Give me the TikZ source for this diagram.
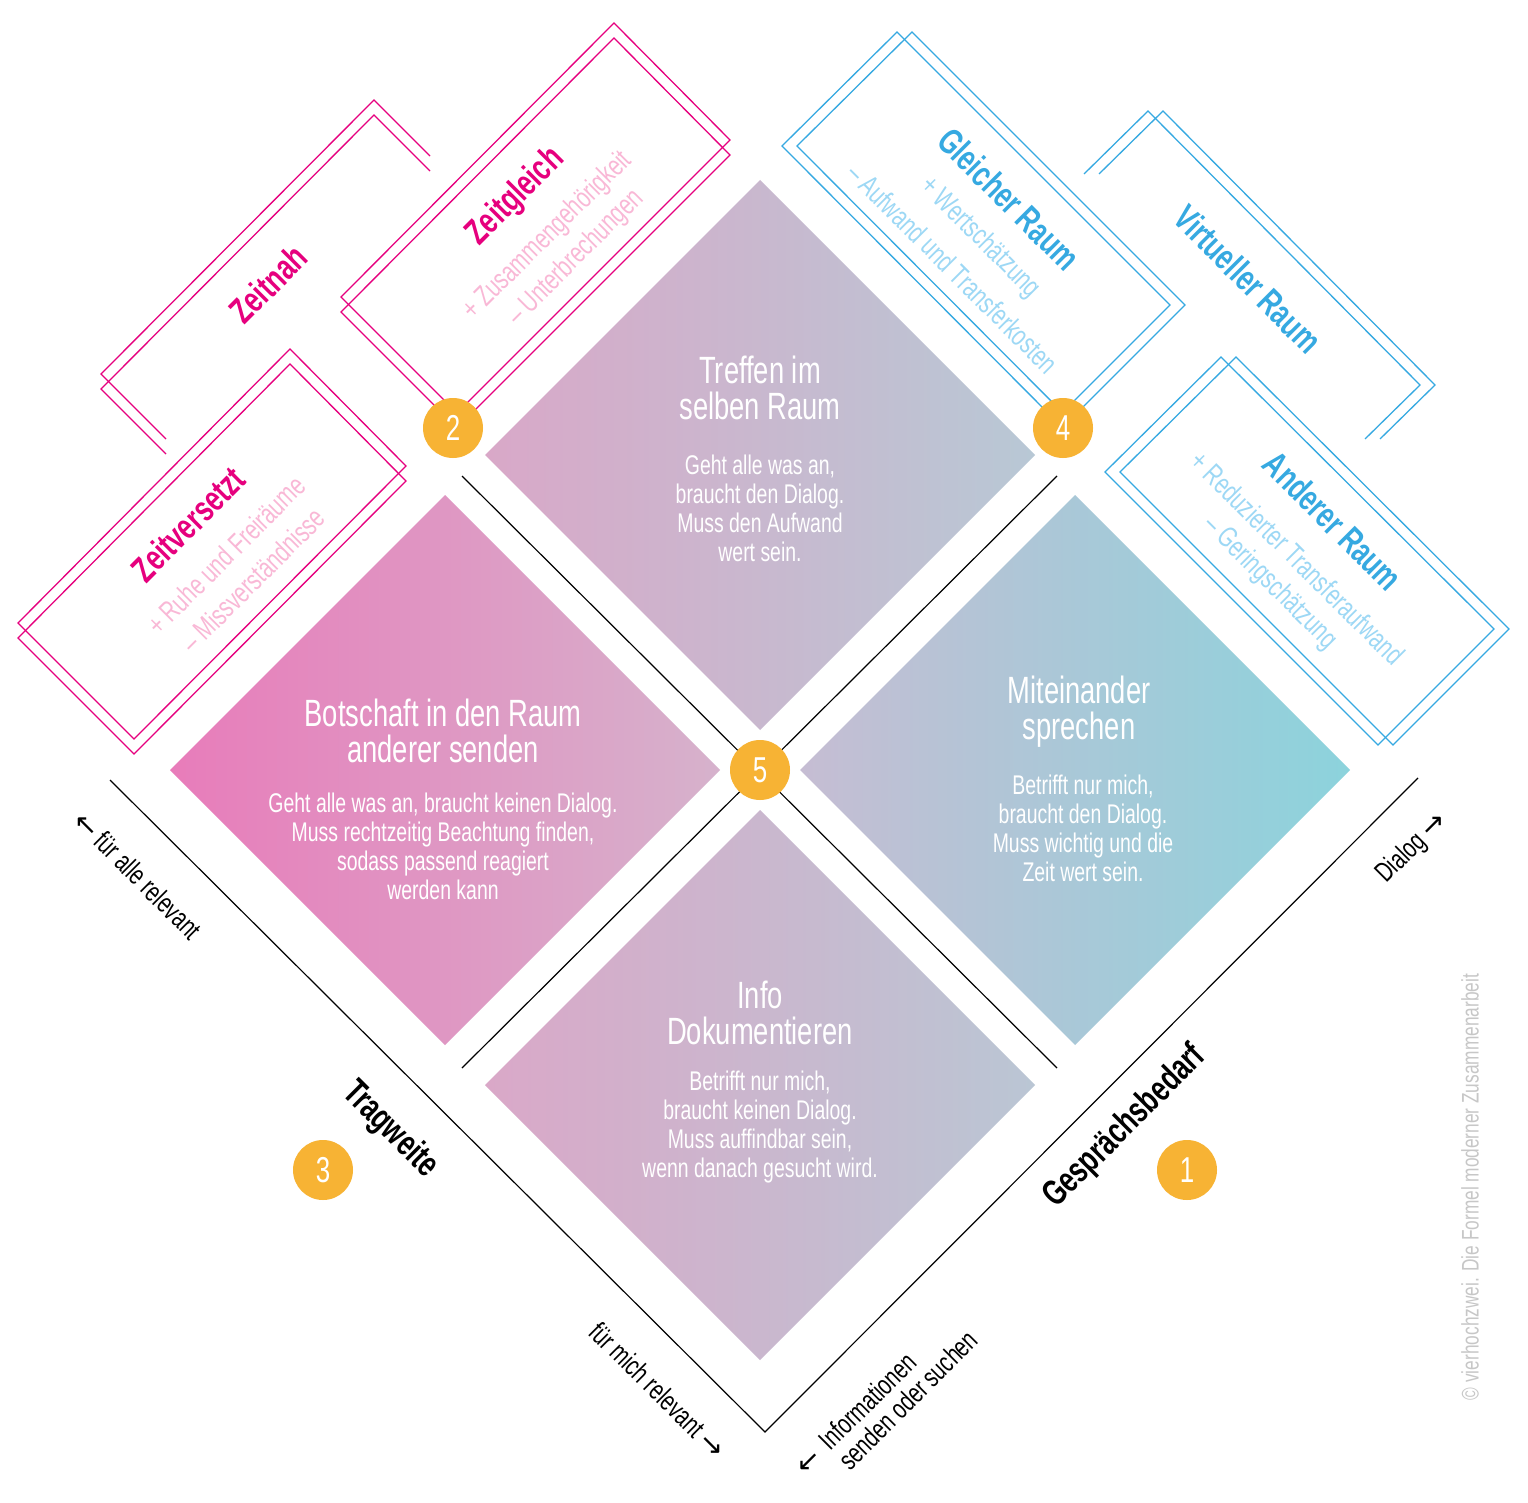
\documentclass[tikz,border=0pt]{standalone}
\usepackage{fontspec}
\setmainfont{Liberation Sans}[FakeStretch=0.72]
\newfontfamily\symf{DejaVu Sans}
\begin{document}
\begin{tikzpicture}[x=1pt,y=-1pt,
  frp/.style={draw=mpink,line width=1.3pt},
  frb/.style={draw=mblue,line width=1.3pt},
  circ/.style={circle,fill=morange,minimum size=60pt,inner sep=0pt,text=white,font=\fontsize{36}{36}\selectfont},
  ttl/.style={text=white,align=center,font=\fontsize{38}{36}\selectfont},
  bdy/.style={text=white,align=center,font=\fontsize{27}{29}\selectfont},
  ax/.style={font=\fontsize{28}{28}\selectfont,align=center},
  axb/.style={font=\bfseries\fontsize{36}{36}\selectfont},
  ftp/.style={font=\bfseries\fontsize{36}{36}\selectfont},
  fsb/.style={font=\fontsize{29}{29}\selectfont}]
\definecolor{mpink}{HTML}{E6007E}
\definecolor{lpink}{HTML}{F9B8D6}
\definecolor{mblue}{HTML}{36A9E1}
\definecolor{lblue}{HTML}{9DD8F5}
\definecolor{morange}{HTML}{F7B334}
\useasboundingbox (0,0) rectangle (1528,1503);
\fill[white] (0,0) rectangle (1528,1503);
% diamonds
\shade[left color={rgb,255:red,232;green,124;blue,186},right color={rgb,255:red,214;green,178;blue,204}] (445,495)--(720,770)--(445,1045)--(170,770)--cycle;
\shade[left color={rgb,255:red,217;green,168;blue,200},right color={rgb,255:red,184;green,200;blue,213}] (760,180)--(1035,455)--(760,730)--(485,455)--cycle;
\shade[left color={rgb,255:red,198;green,189;blue,211},right color={rgb,255:red,140;green,211;blue,220}] (1075,495)--(1350,770)--(1075,1045)--(800,770)--cycle;
\shade[left color={rgb,255:red,218;green,168;blue,200},right color={rgb,255:red,186;green,198;blue,212}] (760,810)--(1035,1085)--(760,1360)--(485,1085)--cycle;
% diamond texts
\node[ttl] (t1) at (760,388) {Treffen im\\selben Raum};
\node[bdy] (b1) at (760,508) {Geht alle was an,\\braucht den Dialog.\\Muss den Aufwand\\wert sein.};
\node[ttl] (t2) at (443,731) {Botschaft in den Raum\\anderer senden};
\node[bdy] (b2) at (443,846) {Geht alle was an, braucht keinen Dialog.\\Muss rechtzeitig Beachtung finden,\\sodass passend reagiert\\werden kann};
\node[ttl] (t3) at (1079,712) {Miteinander\\sprechen};
\node[bdy] (b3) at (1083,828) {Betrifft nur mich,\\braucht den Dialog.\\Muss wichtig und die\\Zeit wert sein.};
\node[ttl] (t4) at (760,1013) {Info\\Dokumentieren};
\node[bdy] (b4) at (760,1127) {Betrifft nur mich,\\braucht keinen Dialog.\\Muss auffindbar sein,\\wenn danach gesucht wird.};
% lines
\coordinate (va) at (110,780); \coordinate (vb) at (765,1432); \coordinate (vc) at (1418,778);
\draw[line width=1.2pt] (va)--(vb)--(vc);
\coordinate (la) at (462,476); \coordinate (lb) at (1057,1068);
\coordinate (lc) at (1057,476); \coordinate (ld) at (462,1068);
\draw[line width=1.2pt] (la)--(lb);
\draw[line width=1.2pt] (lc)--(ld);
% pink frames
\foreach \d in {0,15}{
 \draw[frp] (430,156+\d)--(374,100+\d)--(101,374+\d)--(166,439+\d);
 \draw[frp] (614,23+\d)--(730,140+\d)--(457,413+\d)--(341,297+\d)--cycle;
 \draw[frp] (290,349+\d)--(406,466+\d)--(134,739+\d)--(18,623+\d)--cycle;
}
% blue frames
\foreach \d in {0,15}{
 \draw[frb] (1084+\d,174)--(1148+\d,111)--(1420+\d,385)--(1365+\d,439);
 \draw[frb] (897+\d,32)--(1170+\d,305)--(1055+\d,420)--(782+\d,146)--cycle;
 \draw[frb] (1221+\d,357)--(1494+\d,629)--(1378+\d,745)--(1105+\d,472)--cycle;
}
% frame texts
\node[rotate=45,text=mpink,ftp] (zn) at (268,284) {Zeitnah};
\node[rotate=45,text=mpink,ftp] (zg) at (516,197) {Zeitgleich};
\node[rotate=45,text=lpink,fsb] (zg1) at (548,236) {+ Zusammengehörigkeit};
\node[rotate=45,text=lpink,fsb] (zg2) at (576,258) {– Unterbrechungen};
\node[rotate=45,text=mpink,ftp] (zv) at (188,524) {Zeitversetzt};
\node[rotate=45,text=lpink,fsb] (zv1) at (226,555) {+ Ruhe und Freiräume};
\node[rotate=45,text=lpink,fsb] (zv2) at (253,580) {– Missverständnisse};
\node[rotate=-45,text=mblue,ftp] (gr) at (1009,199) {Gleicher Raum};
\node[rotate=-45,text=lblue,fsb] (gr1) at (980,238) {+ Wertschätzung};
\node[rotate=-45,text=lblue,fsb] (gr2) at (953,268) {– Aufwand und Transferkosten};
\node[rotate=-45,text=mblue,ftp] (vr) at (1248,279) {Virtueller Raum};
\node[rotate=-45,text=mblue,ftp] (ar) at (1333,521) {Anderer Raum};
\node[rotate=-45,text=lblue,fsb] (ar1) at (1298,558) {+ Reduzierter Transferaufwand};
\node[rotate=-45,text=lblue,fsb] (ar2) at (1270,583) {– Geringschätzung};
% circles
\node[circ] (c2) at (453,428) {2};
\node[circ] (c4) at (1063,428) {4};
\node[circ] (c5) at (760,770) {5};
\node[circ] (c3) at (323,1170) {3};
\node[circ] (c1) at (1187,1170) {1};
% axis labels
\node[axb,rotate=-45] (tw) at (390,1130) {Tragweite};
\node[axb,rotate=45] (gb) at (1125,1127) {Gesprächsbedarf};
\node[ax,rotate=-45] (fa) at (138,875) {{\symf ←} für alle relevant};
\node[ax,rotate=-45] (fm) at (658,1390) {für mich relevant {\symf →}};
\node[ax,rotate=45] (dl) at (1412,848) {Dialog {\symf →}};
\node[ax,rotate=45,align=left] (inf) at (886,1402) {{\symf ←}\ \ Informationen\\\hphantom{{\symf ←}\ \ }senden oder suchen};
\node[rotate=90,text=black!22,font=\fontsize{24}{24}\selectfont] (cp) at (1470,1187) {© vierhochzwei. Die Formel moderner Zusammenarbeit};
\end{tikzpicture}
\end{document}
